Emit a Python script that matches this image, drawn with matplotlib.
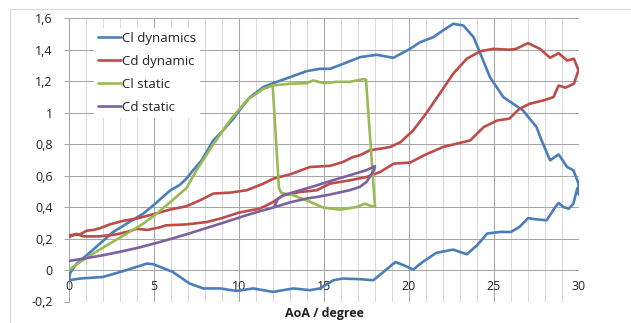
import matplotlib
matplotlib.use("Agg")
import matplotlib.pyplot as plt
from matplotlib.ticker import MultipleLocator, FixedLocator, FixedFormatter
from matplotlib.patches import Rectangle

# ---------------- data ----------------
cl_dyn_x = [0.0, 0.06, 0.45, 1.04, 1.82, 2.6, 3.4, 4.37, 5.0, 5.94, 6.5, 6.9, 7.3, 7.8, 8.49,
            9.0, 9.67, 10.2, 10.65, 11.43, 12.02, 13.0, 13.98, 14.76, 15.35, 16.14, 17.12,
            18.1, 19.08, 20.06, 20.65, 21.43, 22.0, 22.6, 23.2, 23.8, 24.2, 24.76, 25.55,
            26.7, 27.5, 27.8, 28.3, 28.8, 29.3, 29.67, 29.97, 30.0, 29.9, 29.67, 29.4, 29.1,
            28.8, 28.6, 28.1, 27.5, 27.0, 26.5, 26.0, 25.35, 24.6, 24.0, 23.4, 22.6, 21.6,
            20.8, 20.25, 19.7, 19.2, 18.5, 17.9, 17.1, 16.1, 15.55, 14.76, 14.18, 13.2,
            12.0, 10.84, 9.86, 8.9, 7.9, 7.1, 6.1, 4.96, 4.57, 3.4, 2.0, 0.65, 0.0]
cl_dyn_y = [-0.065, -0.02, 0.041, 0.094, 0.168, 0.242, 0.295, 0.359, 0.415, 0.505, 0.54, 0.58,
            0.634, 0.697, 0.824, 0.88, 0.962, 1.04, 1.099, 1.163, 1.188, 1.226, 1.264, 1.279,
            1.279, 1.311, 1.353, 1.368, 1.349, 1.406, 1.448, 1.48, 1.523, 1.565, 1.554, 1.48,
            1.375, 1.226, 1.099, 1.015, 0.909, 0.824, 0.697, 0.735, 0.655, 0.634, 0.55, 0.48,
            0.52, 0.422, 0.39, 0.40, 0.426, 0.40, 0.316, 0.322, 0.33, 0.274, 0.242, 0.242,
            0.232, 0.157, 0.10, 0.13, 0.109, 0.051, 0.003, 0.03, 0.051, -0.012, -0.065,
            -0.058, -0.054, -0.065, -0.117, -0.128, -0.117, -0.139, -0.117, -0.133, -0.117,
            -0.117, -0.086, -0.012, 0.037, 0.041, 0.0, -0.044, -0.054, -0.065]

cd_dyn_x = [0.0, 0.65, 1.04, 1.43, 1.8, 2.4, 3.2, 3.98, 4.96, 5.94, 6.9, 7.7, 8.49, 9.47,
            10.45, 11.43, 12.02, 13.0, 14.18, 15.35, 16.1, 16.7, 17.1, 17.7, 18.9, 19.5,
            20.25, 21.0, 21.8, 22.6, 23.4, 24.2, 24.96, 25.9, 26.3, 27.0, 27.7, 28.3, 28.8,
            29.3, 29.7, 29.97, 29.7, 29.2, 28.8, 28.5, 27.9, 27.1, 26.5, 25.9, 25.2, 24.4,
            23.6, 22.8, 22.0, 21.0, 20.06, 19.1, 18.3, 17.5, 16.5, 15.35, 14.57, 13.6, 12.6,
            12.0, 11.6, 11.2, 10.7, 10.0, 8.9, 8.1, 6.9, 5.7, 5.3, 4.6, 4.0, 3.5, 2.8, 1.8,
            0.84, 0.45, 0.0]
cd_dyn_y = [0.221, 0.227, 0.25, 0.255, 0.265, 0.29, 0.313, 0.327, 0.355, 0.384, 0.405, 0.443,
            0.486, 0.492, 0.507, 0.549, 0.581, 0.608, 0.655, 0.662, 0.686, 0.718, 0.729,
            0.761, 0.782, 0.813, 0.888, 0.994, 1.12, 1.248, 1.343, 1.391, 1.406, 1.40, 1.406,
            1.442, 1.406, 1.349, 1.378, 1.332, 1.343, 1.27, 1.184, 1.159, 1.173, 1.099, 1.078,
            1.057, 1.025, 0.962, 0.951, 0.909, 0.824, 0.803, 0.782, 0.735, 0.683, 0.676,
            0.623, 0.591, 0.57, 0.549, 0.507, 0.496, 0.475, 0.432, 0.41, 0.39, 0.38, 0.365,
            0.327, 0.305, 0.29, 0.284, 0.27, 0.255, 0.262, 0.245, 0.227, 0.214, 0.214, 0.23,
            0.21]

cl_st_x = [0.0, 0.65, 1.43, 2.4, 3.4, 4.37, 5.0, 5.94, 6.9, 7.5, 8.49, 9.47, 10.45, 11.43,
           11.98, 13.0, 13.98, 14.37, 14.76, 15.0, 15.75, 16.5, 17.3, 17.47, 18.0, 17.8,
           17.4, 16.9, 15.94, 14.96, 13.98, 13.2, 12.5, 12.35, 11.98]
cl_st_y = [0.0, 0.051, 0.105, 0.168, 0.232, 0.295, 0.345, 0.43, 0.52, 0.634, 0.80, 0.951,
           1.078, 1.152, 1.173, 1.184, 1.188, 1.205, 1.194, 1.188, 1.196, 1.196, 1.213, 1.21,
           0.405, 0.405, 0.422, 0.40, 0.384, 0.397, 0.443, 0.475, 0.49, 0.52, 1.173]

cd_st_x = [0.0, 1.0, 2.0, 3.0, 4.0, 5.0, 6.0, 7.0, 8.0, 9.0, 10.0, 11.0, 12.1, 13.0, 14.0,
           14.57, 15.35, 16.5, 17.1, 17.5, 17.94, 18.0, 17.5, 16.5, 15.5, 14.57, 13.6, 12.6,
           12.3, 12.1]
cd_st_y = [0.058, 0.075, 0.094, 0.116, 0.14, 0.168, 0.198, 0.23, 0.264, 0.298, 0.333, 0.367,
           0.40, 0.43, 0.455, 0.464, 0.48, 0.507, 0.528, 0.56, 0.634, 0.66, 0.635, 0.602,
           0.57, 0.538, 0.507, 0.475, 0.454, 0.41]

series_names = ["Cl dynamics", "Cd dynamic", "Cl static", "Cd static"]
series_colors = ["#4A7EBB", "#BE4B48", "#98B954", "#7D60A0"]

x_ticks = [0, 5, 10, 15, 20, 25, 30]
y_ticks = [-0.2, 0, 0.2, 0.4, 0.6, 0.8, 1.0, 1.2, 1.4, 1.6]
y_tick_labels = ["-0,2", "0", "0,2", "0,4", "0,6", "0,8", "1", "1,2", "1,4", "1,6"]
x_label = "AoA / degree"

# ---------------- plot ----------------
plt.rcParams['font.family'] = ['Open Sans', 'DejaVu Sans']
W, H = 631, 323
fig = plt.figure(figsize=(W / 100, H / 100), dpi=100)

# outer chart border (partially cropped in reference)
fig.patches.append(Rectangle((10 / W, -0.2), 1.2, 1 - 9 / H + 0.2, transform=fig.transFigure,
                             fill=False, edgecolor="#D9D9D9", linewidth=0.8, clip_on=False))

ax = fig.add_axes([69 / W, (H - 301.5) / H, 510 / W, 283.2 / H])
ax.set_xlim(0, 30)
ax.set_ylim(-0.2, 1.6)

xs = [cl_dyn_x, cd_dyn_x, cl_st_x, cd_st_x]
ys = [cl_dyn_y, cd_dyn_y, cl_st_y, cd_st_y]
for x, y, name, col in zip(xs, ys, series_names, series_colors):
    ax.plot(x, y, color=col, lw=1.9, label=name, solid_joinstyle='round',
            solid_capstyle='round')

ax.xaxis.set_major_locator(FixedLocator(x_ticks))
ax.xaxis.set_minor_locator(MultipleLocator(1))
ax.yaxis.set_major_locator(FixedLocator(y_ticks))
ax.yaxis.set_major_formatter(FixedFormatter(y_tick_labels))

ax.set_axisbelow(True)
ax.grid(which='major', axis='both', color='#A6A6A6', lw=0.75)
ax.grid(which='minor', axis='x', color='#D9D9D9', lw=0.75)

for s in ax.spines.values():
    s.set_visible(False)
ax.spines['bottom'].set_position(('data', 0))

ax.tick_params(axis='x', which='both', length=0, pad=7, labelsize=9, labelcolor='#222222')
ax.tick_params(axis='y', which='major', direction='out', length=3.6, width=0.75,
               color='#A6A6A6', pad=8, labelsize=9, labelcolor='#222222')

ax.set_xlabel(x_label, fontsize=9, fontweight='bold', color='#222222')
ax.xaxis.set_label_coords(0.5, -0.044)
ax.xaxis.label.set_va('center')

leg = ax.legend(loc='upper left', bbox_to_anchor=(0.049, 0.966), borderaxespad=0,
                frameon=True, fancybox=False, edgecolor='none', facecolor='white',
                framealpha=1, fontsize=9.5, handlelength=1.75, handletextpad=0.1,
                labelspacing=0.76, borderpad=0.3)
for t in leg.get_texts():
    t.set_color('#222222')

fig.savefig("out.png", dpi=100)
